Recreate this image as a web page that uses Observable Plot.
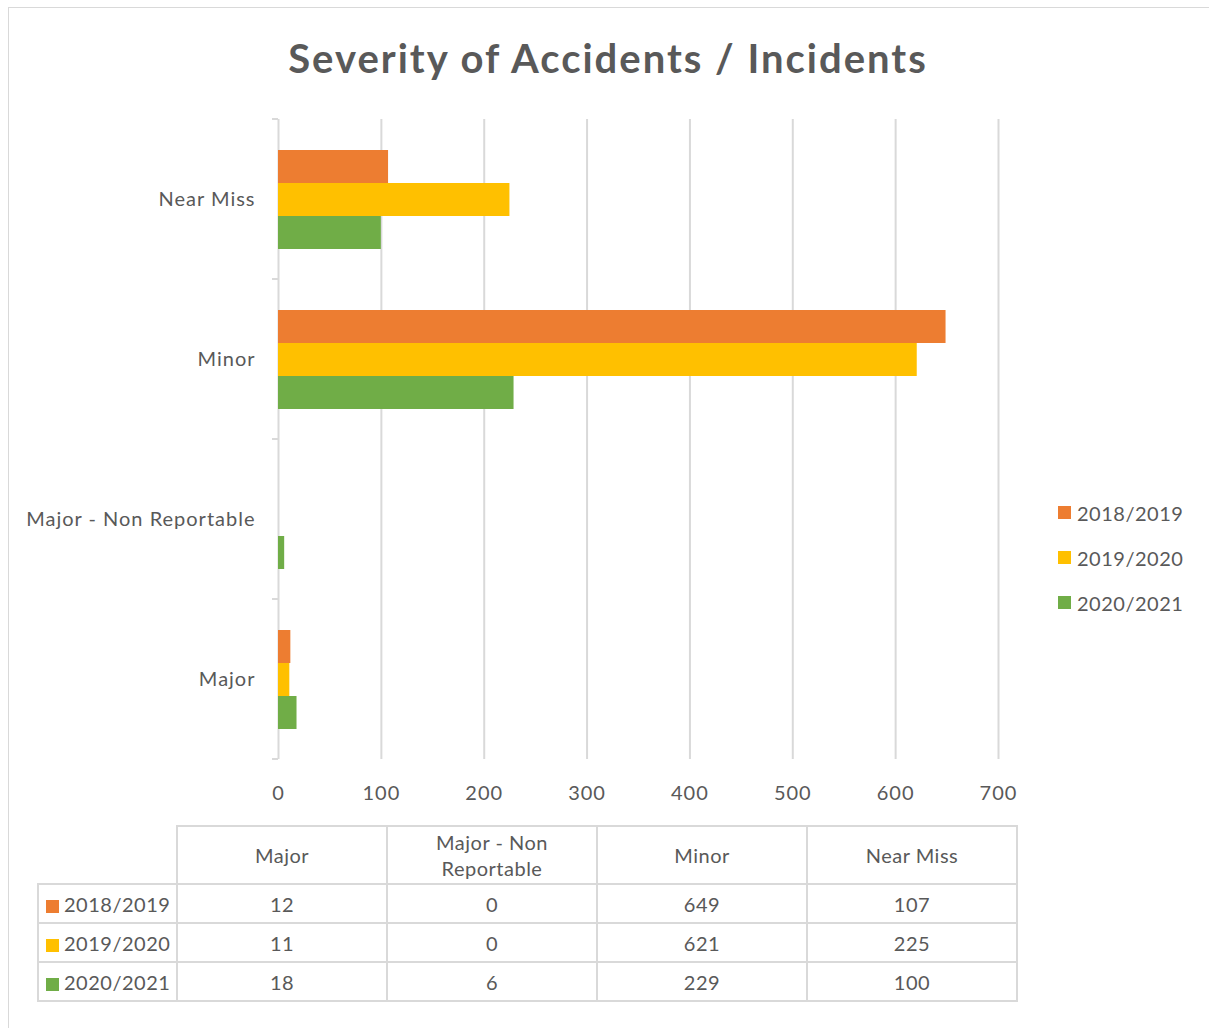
<!DOCTYPE html>
<html>
<head>
<meta charset="utf-8">
<script src="https://cdn.jsdelivr.net/npm/d3@7"></script>
<script src="https://cdn.jsdelivr.net/npm/@observablehq/plot@0.6"></script>
<style>
  html, body { margin: 0; padding: 0; background: #fff; }
  #wrap { position: relative; width: 1209px; height: 1028px; overflow: hidden; font-family: Lato, "Noto Sans", sans-serif; color: #595959; }
  #border { position: absolute; left: 8px; top: 7px; width: 1400px; height: 1200px; border: 1px solid #d9d9d9; box-sizing: border-box; }
  #title { position: absolute; left: 0; width: 1216px; top: 30px; text-align: center; font-weight: 700; font-size: 40px; line-height: 56px; letter-spacing: 2px; }
  #chart { position: absolute; left: 0; top: 0; }
  #legend { position: absolute; left: 1058px; top: 490px; font-size: 20px; letter-spacing: 0.5px; }
  #legend .item { display: flex; align-items: center; height: 45px; }
  #legend .sw { width: 13px; height: 13px; margin-right: 6px; }
  #table { position: absolute; left: 37px; top: 825px; border-collapse: collapse; font-size: 20px; letter-spacing: 0.5px; }
  #table td { border: 2px solid #d9d9d9; text-align: center; padding: 0; }
  #table td.blank { border: none; }
  #table tr.head td { height: 56px; line-height: 26px; }
  #table tr.body td { height: 37px; }
  #table td.rh { text-align: left; padding-left: 7px; white-space: nowrap; }
  #table .sw { display: inline-block; width: 13px; height: 13px; margin-right: 5px; vertical-align: -1px; }
</style>
</head>
<body>
<div id="wrap">
  <div id="border"></div>
  <div id="title"></div>
  <div id="chart"></div>
  <div id="legend"></div>
  <table id="table"></table>
</div>
<script>
// ---- data ----
const title = "Severity of Accidents / Incidents";
const categories = ["Major", "Major - Non Reportable", "Minor", "Near Miss"];
const tableHeaders = ["Major", "Major - Non<br>Reportable", "Minor", "Near Miss"];
const series = ["2018/2019", "2019/2020", "2020/2021"];
const values2018 = [12, 0, 649, 107];
const values2019 = [11, 0, 621, 225];
const values2020 = [18, 6, 229, 100];
const colors = ["#ED7D31", "#FFC000", "#70AD47"];
const xTicks = [0, 100, 200, 300, 400, 500, 600, 700];

const seriesValues = [values2018, values2019, values2020];
const data = [];
series.forEach((s, i) => categories.forEach((c, j) => data.push({series: s, category: c, value: seriesValues[i][j]})));

document.getElementById("title").textContent = title;

// band boundary ticks on the category axis, drawn from the fy scale
function bandEdges(index, scales, values, dims) {
  const g = d3.create("svg:g").attr("stroke", "#d9d9d9").attr("stroke-width", 2);
  const fy = scales.fy;
  let edges = [];
  if (fy && fy.domain) {
    const bw = fy.bandwidth ? fy.bandwidth() : 0;
    for (const d of fy.domain()) { edges.push(fy(d)); edges.push(fy(d) + bw); }
  }
  edges = Array.from(new Set(edges.map(e => Math.round(e * 10) / 10)));
  const x0 = dims.marginLeft;
  for (const e of edges) g.append("line").attr("x1", x0 - 6).attr("x2", x0).attr("y1", e).attr("y2", e);
  return g.node();
}

const plot = Plot.plot({
  width: 1040,
  height: 820,
  marginLeft: 278,
  marginRight: 42,
  marginTop: 118,
  marginBottom: 60,
  style: {fontFamily: "Lato, 'Noto Sans', sans-serif", fontSize: "20px", letterSpacing: "1px", color: "#595959", background: "transparent", overflow: "visible"},
  x: {domain: [0, 700], ticks: xTicks, tickSize: 0, tickPadding: 26, label: null, tickFormat: d => String(d)},
  fy: {domain: categories.slice().reverse(), padding: 0, label: null, tickSize: 0, tickPadding: 23, axis: "left"},
  y: {domain: series, paddingInner: 0, paddingOuter: 0.9, axis: null},
  color: {domain: series, range: colors},
  marks: [
    Plot.gridX(xTicks, {stroke: "#d9d9d9", strokeOpacity: 1, strokeWidth: 2}),
    Plot.barX(data, {x: "value", y: "series", fy: "category", fill: "series"}),
    Plot.frame({facet: "super", render: bandEdges})
  ]
});
document.getElementById("chart").appendChild(plot);

// legend
const legend = d3.select("#legend");
series.forEach((s, i) => {
  const it = legend.append("div").attr("class", "item");
  it.append("div").attr("class", "sw").style("background", colors[i]);
  it.append("span").text(s);
});

// data table
const table = d3.select("#table");
const head = table.append("tr").attr("class", "head");
head.append("td").attr("class", "blank").style("width", "138px");
tableHeaders.forEach(h => head.append("td").style("width", "208px").html(h));
series.forEach((s, i) => {
  const tr = table.append("tr").attr("class", "body");
  const rh = tr.append("td").attr("class", "rh");
  rh.append("span").attr("class", "sw").style("background", colors[i]);
  rh.append("span").text(s);
  seriesValues[i].forEach(v => tr.append("td").text(v));
});
</script>
</body>
</html>
